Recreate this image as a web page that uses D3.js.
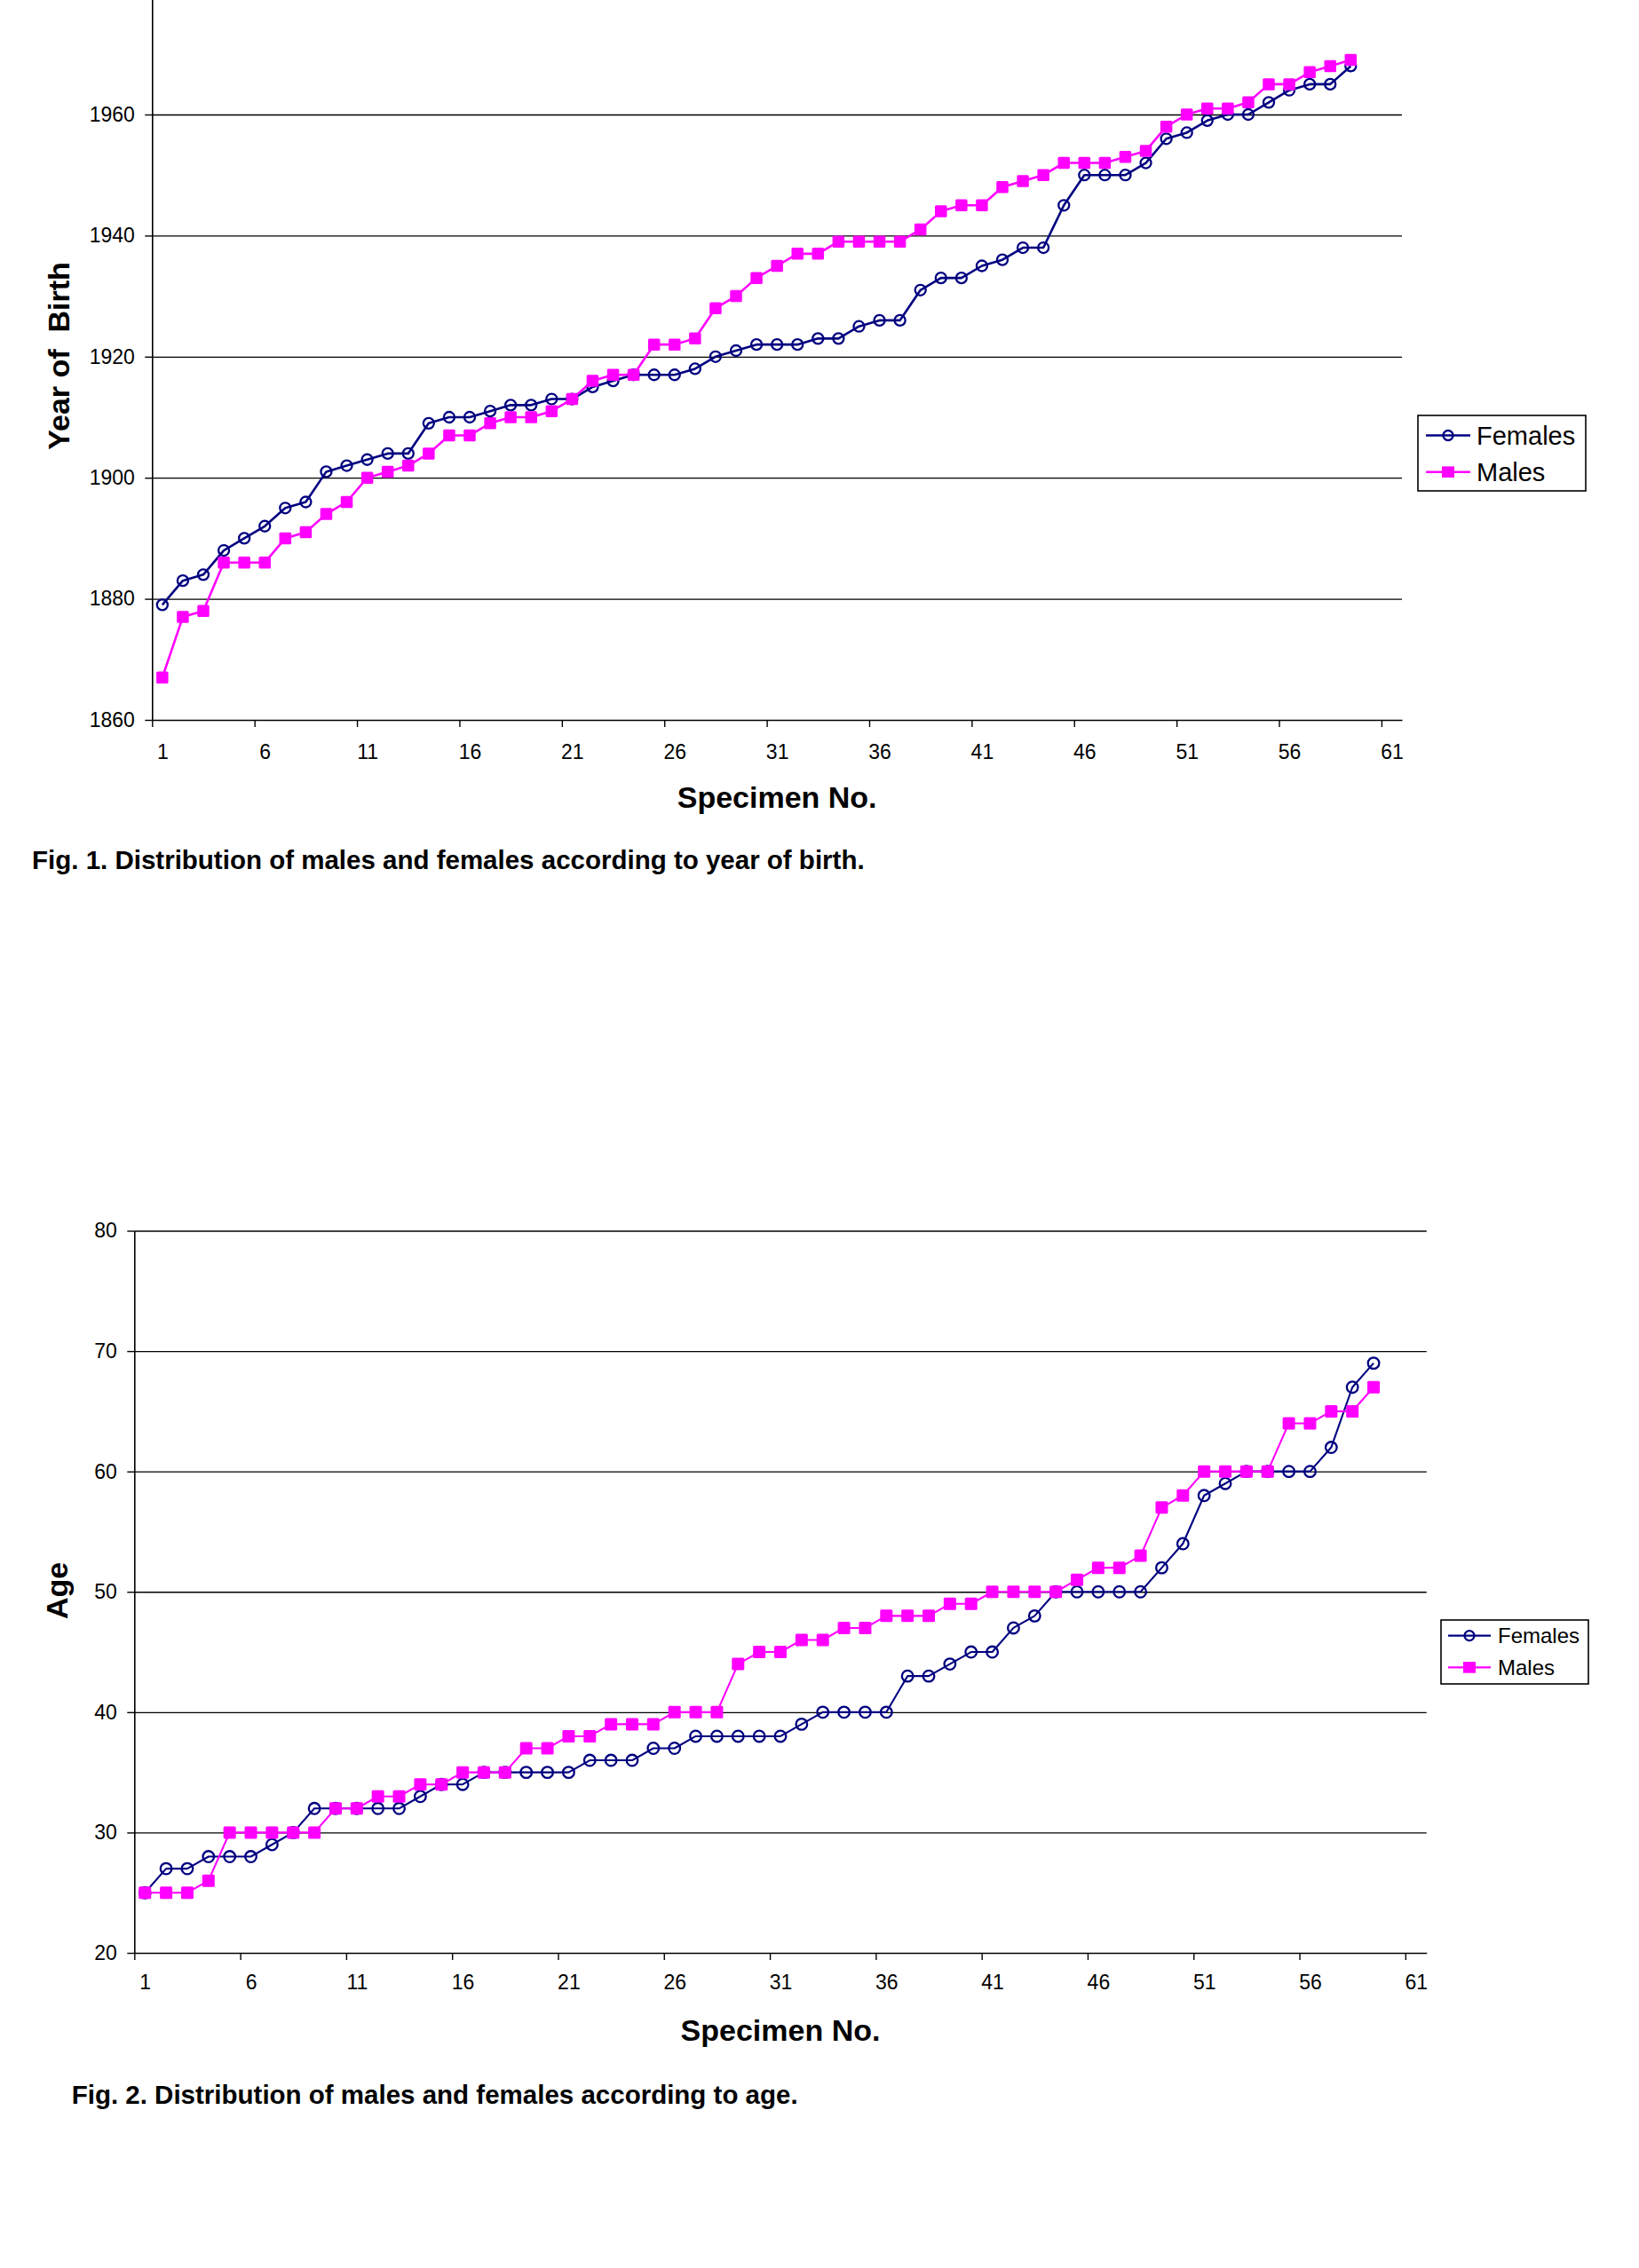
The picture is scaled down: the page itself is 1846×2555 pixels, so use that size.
<!DOCTYPE html>
<html><head><meta charset="utf-8">
<script src="https://cdn.jsdelivr.net/npm/d3@7"></script>
<style>
body{margin:0;background:#fff}
svg{display:block}
text{font-family:"Liberation Sans",Arial,Helvetica,sans-serif;fill:#000}
</style>
</head><body>
<svg id="c" width="1846" height="2555"></svg>
<script>
// ---------- DATA ----------
const seriesNames = ["Females", "Males"];
const xTickLabels = [1, 6, 11, 16, 21, 26, 31, 36, 41, 46, 51, 56, 61];

const birthTicks = [1860, 1880, 1900, 1920, 1940, 1960, 1980];
const birthFemales = [1879,1883,1884,1888,1890,1892,1895,1896,1901,1902,
  1903,1904,1904,1909,1910,1910,1911,1912,1912,1913,
  1913,1915,1916,1917,1917,1917,1918,1920,1921,1922,
  1922,1922,1923,1923,1925,1926,1926,1931,1933,1933,
  1935,1936,1938,1938,1945,1950,1950,1950,1952,1956,
  1957,1959,1960,1960,1962,1964,1965,1965,1968];
const birthMales = [1867,1877,1878,1886,1886,1886,1890,1891,1894,1896,
  1900,1901,1902,1904,1907,1907,1909,1910,1910,1911,
  1913,1916,1917,1917,1922,1922,1923,1928,1930,1933,
  1935,1937,1937,1939,1939,1939,1939,1941,1944,1945,
  1945,1948,1949,1950,1952,1952,1952,1953,1954,1958,
  1960,1961,1961,1962,1965,1965,1967,1968,1969];

const ageTicks = [20, 30, 40, 50, 60, 70, 80];
const ageFemales = [25,27,27,28,28,28,29,30,32,32,
  32,32,32,33,34,34,35,35,35,35,
  35,36,36,36,37,37,38,38,38,38,
  38,39,40,40,40,40,43,43,44,45,
  45,47,48,50,50,50,50,50,52,54,
  58,59,60,60,60,60,62,67,69];
const ageMales = [25,25,25,26,30,30,30,30,30,32,
  32,33,33,34,34,35,35,35,37,37,
  38,38,39,39,39,40,40,40,44,45,
  45,46,46,47,47,48,48,48,49,49,
  50,50,50,50,51,52,52,53,57,58,
  60,60,60,60,64,64,65,65,67];

// ---------- STYLE ----------
const NAVY = "#000080", MAGENTA = "#FF00FF";
const svg = d3.select("#c");
svg.append("rect").attr("width",1846).attr("height",2555).attr("fill","#fff");

function drawChart(cfg) {
  const g = svg.append("g");
  const x = d3.scaleLinear().domain([0.5, 61.5]).range([cfg.left, cfg.right]);
  const y = d3.scaleLinear().domain(cfg.yDomain).range([cfg.bottom, cfg.top]);

  // gridlines
  g.append("g").attr("transform", `translate(${cfg.left},0)`)
    .call(d3.axisLeft(y).tickValues(cfg.yTicks.filter(v => v !== cfg.yDomain[0]))
      .tickSize(-(cfg.right - cfg.left)).tickFormat(""))
    .call(s => s.select(".domain").remove())
    .call(s => s.selectAll("line").attr("stroke", "#000").attr("stroke-width", 1.3));

  // y axis with labels
  const ya = g.append("g").attr("transform", `translate(${cfg.left},0)`)
    .call(d3.axisLeft(y).tickValues(cfg.yTicks).tickFormat(d3.format("d"))
      .tickSize(8).tickPadding(11.5).tickSizeOuter(0));
  ya.select(".domain").attr("stroke", "#000").attr("stroke-width", 1.6);
  ya.selectAll("line").attr("stroke", "#000").attr("stroke-width", 1.4);
  ya.selectAll("text").attr("font-size", 23).attr("font-family", '"Liberation Sans",Arial,sans-serif').attr("fill","#000");

  // x axis: boundary ticks
  const xb = g.append("g").attr("transform", `translate(0,${cfg.bottom})`)
    .call(d3.axisBottom(x).tickValues(d3.range(0.5, 61.6, 5)).tickSize(8).tickFormat("").tickSizeOuter(0));
  xb.select(".domain").attr("stroke", "#000").attr("stroke-width", 1.6);
  xb.selectAll("line").attr("stroke", "#000").attr("stroke-width", 1.4);
  // x axis labels centred on categories
  const xl = g.append("g").attr("transform", `translate(0,${cfg.bottom})`)
    .call(d3.axisBottom(x).tickValues(xTickLabels).tickFormat(d3.format("d"))
      .tickSize(0).tickPadding(cfg.xLabelPad));
  xl.select(".domain").remove();
  xl.selectAll("text").attr("font-size", 23).attr("font-family", '"Liberation Sans",Arial,sans-serif').attr("fill","#000");

  // axis titles
  g.append("text").attr("x", (cfg.left + cfg.right) / 2).attr("y", cfg.xTitleY)
    .attr("text-anchor", "middle").attr("font-size", 34).attr("font-weight", "bold")
    .text("Specimen No.");
  g.append("text").attr("transform", `translate(${cfg.yTitleX},${cfg.yTitleY}) rotate(-90)`)
    .attr("text-anchor", "middle").attr("font-size", 34).attr("font-weight", "bold")
    .style("white-space", "pre").text(cfg.yTitle);

  // caption
  g.append("text").attr("x", cfg.capX).attr("y", cfg.capY)
    .attr("font-size", 29.5).attr("font-weight", "bold").text(cfg.caption);

  // series
  const line = d3.line().x((d, i) => x(i + 1)).y(d => y(d));
  g.append("path").datum(cfg.females).attr("d", line).attr("fill", "none")
    .attr("stroke", NAVY).attr("stroke-width", cfg.lw).attr("stroke-linejoin", "round");
  g.append("g").selectAll("circle").data(cfg.females).join("circle")
    .attr("cx", (d, i) => x(i + 1)).attr("cy", d => y(d)).attr("r", cfg.cr)
    .attr("fill", "none").attr("stroke", NAVY).attr("stroke-width", 2.3);
  g.append("path").datum(cfg.males).attr("d", line).attr("fill", "none")
    .attr("stroke", MAGENTA).attr("stroke-width", cfg.lw).attr("stroke-linejoin", "round");
  g.append("g").selectAll("rect").data(cfg.males).join("rect")
    .attr("x", (d, i) => x(i + 1) - cfg.sq / 2).attr("y", d => y(d) - cfg.sq / 2)
    .attr("width", cfg.sq).attr("height", cfg.sq).attr("rx", 1.5).attr("fill", MAGENTA);

  // legend
  const L = cfg.legend;
  const lg = g.append("g");
  lg.append("rect").attr("x", L.x0).attr("y", L.y0).attr("width", L.x1 - L.x0).attr("height", L.y1 - L.y0)
    .attr("fill", "#fff").attr("stroke", "#000").attr("stroke-width", 1.6);
  seriesNames.forEach((name, k) => {
    const yy = L.rows[k];
    const col = k === 0 ? NAVY : MAGENTA;
    lg.append("line").attr("x1", L.lx0).attr("x2", L.lx1).attr("y1", yy).attr("y2", yy)
      .attr("stroke", col).attr("stroke-width", cfg.lw);
    const mx = (L.lx0 + L.lx1) / 2;
    if (k === 0) {
      lg.append("circle").attr("cx", mx).attr("cy", yy).attr("r", L.cr)
        .attr("fill", "none").attr("stroke", NAVY).attr("stroke-width", 2.3);
    } else {
      lg.append("rect").attr("x", mx - L.sq / 2).attr("y", yy - L.sq * 0.45)
        .attr("width", L.sq).attr("height", L.sq * 0.9).attr("fill", MAGENTA);
    }
    lg.append("text").attr("x", L.tx).attr("y", yy).attr("dy", "0.35em")
      .attr("font-size", L.fs).text(name);
  });
}

drawChart({
  left: 171.3, right: 1579, top: -7.4, bottom: 811,
  yDomain: [1860, 1980], yTicks: birthTicks,
  females: birthFemales, males: birthMales,
  xLabelPad: 28, xTitleY: 910, yTitle: "Year of  Birth", yTitleX: 78, yTitleY: 401,
  caption: "Fig. 1. Distribution of males and females according to year of birth.",
  capX: 36, capY: 979, lw: 2.6, cr: 6, sq: 13.5,
  legend: { x0: 1597, x1: 1786, y0: 468, y1: 553, rows: [490.5, 531.7],
    lx0: 1606, lx1: 1656, tx: 1663, fs: 29, cr: 5.5, sq: 14 }
});

drawChart({
  left: 151.3, right: 1606.7, top: 1386.5, bottom: 2200,
  yDomain: [20, 80], yTicks: ageTicks,
  females: ageFemales, males: ageMales,
  xLabelPad: 25, xTitleY: 2299, yTitle: "Age", yTitleX: 76, yTitleY: 1792,
  caption: "Fig. 2. Distribution of males and females according to age.",
  capX: 80.7, capY: 2370, lw: 2.1, cr: 6.3, sq: 14,
  legend: { x0: 1623, x1: 1789, y0: 1825, y1: 1897, rows: [1842.6, 1878.4],
    lx0: 1631, lx1: 1679, tx: 1687, fs: 24, cr: 5.5, sq: 14 }
});
</script>
</body></html>
